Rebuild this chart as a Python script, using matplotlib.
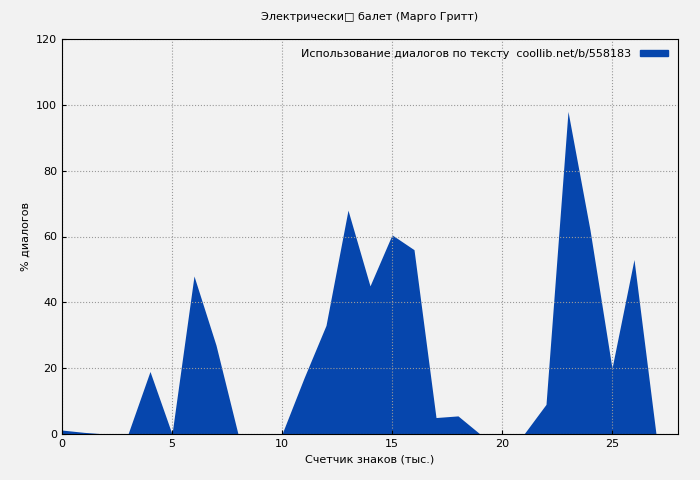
import matplotlib
matplotlib.use("Agg")
import matplotlib.pyplot as plt
from matplotlib.patches import Patch

x = list(range(0, 28))
y = [1.2, 0.5, 0, 0, 19, 0, 48, 27, 0, 0, 0, 17, 33, 68, 45, 60.5, 56, 5, 5.5, 0, 0, 0, 9, 98, 62, 20, 53, 0]
title = "Электрически\u25a1 балет (Марго Гритт)"
xlabel = "Счетчик знаков (тыс.)"
ylabel = "% диалогов"
legend_label = "Использование диалогов по тексту  coollib.net/b/558183"
color = "#0646ad"

fig = plt.figure(figsize=(7, 4.8), dpi=100, facecolor="#f2f2f2")
ax = fig.add_axes([62/700, 46/480, (678-62)/700, (434-39)/480])
ax.set_facecolor("#f2f2f2")
ax.fill_between(x, y, 0, color=color, linewidth=0)
ax.set_xlim(0, 28)
ax.set_ylim(0, 120)
ax.set_xticks([0, 5, 10, 15, 20, 25])
ax.set_yticks(range(0, 121, 20))
ax.grid(True, color="#999999", linestyle=":", linewidth=0.8)
ax.tick_params(labelsize=8, direction="in", length=3)
ax.set_title(title, fontsize=8, pad=14)
ax.set_xlabel(xlabel, fontsize=8)
ax.set_ylabel(ylabel, fontsize=8)
ax.legend(handles=[Patch(color=color)], labels=[legend_label], loc="upper right",
          frameon=False, fontsize=8, markerfirst=False, handlelength=2.5, handleheight=0.5)
fig.savefig("out.png", dpi=100, facecolor=fig.get_facecolor())
